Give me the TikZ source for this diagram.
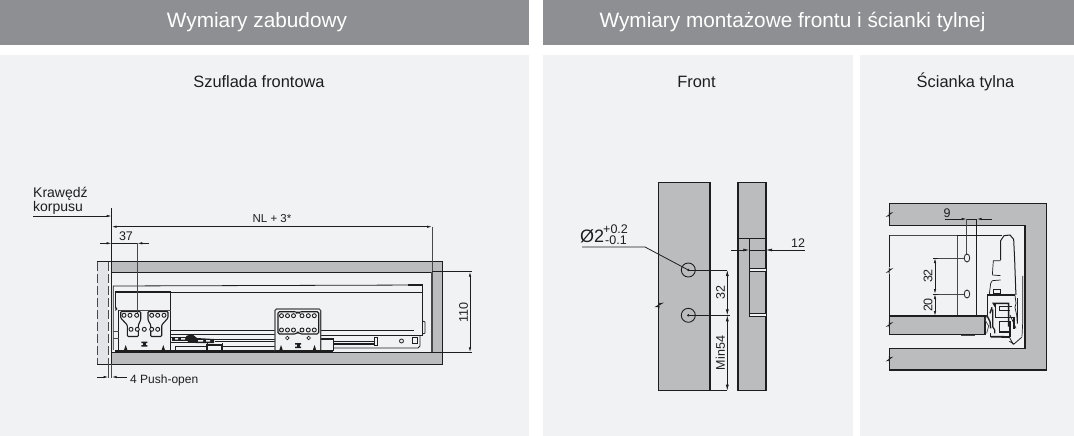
\documentclass[tikz,border=0pt]{standalone}
\usepackage{fontspec}
\setmainfont{Liberation Sans}
\usetikzlibrary{arrows.meta,shapes.geometric}
\definecolor{hdr}{HTML}{8E8F92}
\definecolor{pnl}{HTML}{F1F2F4}
\definecolor{part}{HTML}{BBBCBE}
\definecolor{ink}{HTML}{1F1E1F}
\definecolor{thinc}{HTML}{48484A}
\tikzset{
  x=1pt,y=-1pt,
  header/.style={fill=hdr,draw=none},
  panel/.style={fill=pnl,draw=none},
  headtxt/.style={text=white,font=\fontsize{20.8}{24}\selectfont,anchor=center,inner sep=0pt},
  titletxt/.style={text=ink,font=\fontsize{16.4}{19}\selectfont,anchor=center,inner sep=0pt},
  dimtxt/.style={text=ink,font=\fontsize{11.5}{13}\selectfont,inner sep=0pt},
  outl/.style={draw=ink,line width=1pt},
  solid part/.style={fill=part,draw=ink,line width=1.1pt},
  hair/.style={draw=thinc,line width=.7pt},
  fine/.style={draw=ink,line width=.8pt},
  heavy/.style={draw=ink,line width=1.6pt},
  dimline/.style={draw=ink,line width=.7pt},
  dimarr/.style={draw=ink,line width=.7pt,{Latex[length=5pt,width=2.4pt]}-{Latex[length=5pt,width=2.4pt]}},
  arrend/.style={draw=ink,line width=.7pt,-{Latex[length=5pt,width=2.4pt]}},
  hole/.style={draw=ink,line width=.8pt,fill=pnl},
}
\begin{document}
\begin{tikzpicture}
\useasboundingbox (0,0) rectangle (1074,436);
\fill[white] (0,0) rectangle (1074,436);
% headers and panels
\fill[header] (0,0) rectangle (529,45);
\fill[header] (543,0) rectangle (1074,45);
\fill[panel] (0,55) rectangle (529,436);
\fill[panel] (543,55) rectangle (853,436);
\fill[panel] (860,55) rectangle (1074,436);
\node[headtxt] (h1) at (257,22) {Wymiary zabudowy};
\node[headtxt] (h2) at (792.5,22.5) {Wymiary montażowe frontu i ścianki tylnej};
\node[titletxt] (t1) at (259,82) {Szuflada frontowa};
\node[titletxt] (t2) at (696.5,82) {Front};
\node[titletxt] (t3) at (965.5,82) {Ścianka tylna};

%%% LEFT DRAWING: carcase
\fill[part!25!pnl] (97,261) rectangle (108,364);
\fill[part] (111.7,261) rectangle (442.7,272);
\fill[part] (111.7,352.3) rectangle (442.7,364);
\fill[part] (431.7,261) rectangle (442.7,364);
\draw[fine] (97,261) -- (442.7,261) -- (442.7,364) -- (97,364);
\draw[fine] (111.7,272) -- (431.7,272);
\draw[hair] (431.7,272) -- (431.7,352.3);
\draw[fine,line width=1pt] (111.7,352.3) -- (431.7,352.3);
\draw[hair,dash pattern=on 9pt off 3pt] (97,262) -- (97,364);
\draw[hair,dash pattern=on 9pt off 3pt] (108,262) -- (108,364);
% edge line and dimensions
\coordinate (edgeT) at (111.7,208);
\coordinate (edgeB) at (111.7,364);
\draw[fine] (edgeT) -- (edgeB);
\node[dimtxt,anchor=west,font=\fontsize{14}{16}\selectfont] (kr) at (33,194) {Krawędź};
\node[dimtxt,anchor=west,font=\fontsize{14}{16}\selectfont] (ko) at (33,207.5) {korpusu};
\coordinate (kl) at (33,216);
\draw[arrend] (kl) -- (111.7,216);
\coordinate (nlL) at (111.7,226.7);
\coordinate (nlR) at (432,226.7);
\draw[dimarr] (nlL) -- (nlR);
\draw[hair] (nlR) -- (432,352.3);
\node[dimtxt] (nl) at (272,218.5) {NL + 3*};
\coordinate (d37a) at (111.7,243.3);
\coordinate (d37b) at (137.3,243.3);
\draw[arrend] (100,243.3) -- (d37a);
\draw[dimline] (d37a) -- (d37b);
\draw[arrend] (149,243.3) -- (d37b);
\node[dimtxt,font=\fontsize{12.5}{14}\selectfont] (n37) at (126,236) {37};
\draw[hair] (108.5,364) -- (108.5,378);
\draw[hair] (111.7,364) -- (111.7,378);
\coordinate (p4a) at (108.5,377);
\coordinate (p4b) at (111.7,377);
\draw[arrend] (97,377) -- (p4a);
\draw[arrend] (127,377) -- (p4b);
\node[dimtxt,anchor=west,font=\fontsize{12}{14}\selectfont] (p4) at (130,380) {4 Push-open};
% height dim
\coordinate (hT) at (470,271.7);
\coordinate (hB) at (470,352.3);
\draw[fine] (431.7,271.7) -- (471.5,271.7);
\draw[fine] (431.7,352.3) -- (471.5,352.3);
\draw[dimarr] (hT) -- (hB);
\node[dimtxt,rotate=90,font=\fontsize{12.5}{14}\selectfont] (h110) at (463.5,312.5) {110};

% drawer side
\draw[fine] (113.3,350) -- (113.3,286) -- (422.7,285);
\draw[fine] (171,292) -- (422.7,292);
\draw[line width=2.4pt,draw=ink] (408,285.2) -- (422.7,285.2);
\draw[fine] (422.7,285) -- (422.7,335);
\draw[fine] (422.7,321) -- (425,322) -- (425,333) -- (422.7,334);
\draw[fine] (171,330) -- (275,330) (320.7,330) -- (414,330) ;
\draw[fine,line width=1pt] (320.7,335) -- (422.7,335);
\draw[fine] (420,335) -- (420,346) -- (418,348) -- (333,348);
\draw[fine] (374,337) -- (374,345) -- (377,345) -- (377,337) -- cycle;
\draw[heavy] (333,344) -- (375,344);
\draw[fine] (333,341.5) -- (375,341.5);
\draw[hole] (401.5,341) circle (2);
\draw[fine] (412,337) rectangle (417,343.5);
\fill[ink] (320.7,338) rectangle (333,340);
\draw[fine] (333,338) -- (333,351);
\fill[ink] (320.7,349.5) rectangle (333,352);
% lower rails left
\draw[fine] (171,334.5) -- (275,334.5);
\draw[fine] (171,337) -- (183,337) (205,339) -- (275,339);
\draw[fine] (171,342) -- (200,342) (215,341) -- (275,341);
\draw[fine] (175,346) -- (207,346) (222,346) -- (275,346);
\draw[fine] (175,346) -- (175,351) (207,342) -- (207,351) (222,343) -- (222,351);
\fill[ink] (172,337) rectangle (188,341);
\fill[pnl] (175,338) rectangle (178,339.5) (181,338) rectangle (185,339.5);
\fill[ink] (186,336) -- (192,334) -- (197,338) -- (214,339) -- (214,343) -- (196,343) -- (188,342) -- cycle;
\fill[pnl] (198,340) rectangle (203,341.5) (206,340) rectangle (210,341.5);
\draw[line width=1.2pt,draw=ink] (207,345) rectangle (222,351);
\draw[line width=2pt,draw=ink] (115,351.2) -- (333,351.2);

% front brackets
\draw[fine,line width=1.1pt] (115.3,308) -- (115.3,292) -- (170.7,292) -- (170.7,351);
\fill[ink] (115.3,306) -- (117.5,309) -- (115.3,311) -- cycle;
\draw[hair] (118.7,310) -- (170.7,310);
\draw[fine] (118.7,310) -- (118.7,351);
\draw[hair] (113.3,331) -- (118.7,331) (113.3,338) -- (118.7,338);
\draw[line width=1.1pt,draw=ink,rounded corners=1pt,fill=pnl] (120.7,311.5) -- (140.7,311.5) -- (140.7,320) -- (138.3,325) -- (138.3,336.5) -- (127.3,336.5) -- (127.3,325) -- (120.7,318) -- cycle;
\draw[line width=1.1pt,draw=ink,rounded corners=1pt,fill=pnl] (148,311.5) -- (168,311.5) -- (168,318) -- (161.7,325) -- (161.7,336.5) -- (150.7,336.5) -- (150.7,325) -- (148,320) -- cycle;
\foreach \hx/\hy in {124/315.3,130/315.3,136.7/315.3,131/329.3,137.3/329.3,144.3/329.3,151.7/329.3,157.7/329.3,151.7/315.3,157.7/315.3,164/315.3}
  \draw[hole,line width=.9pt] (\hx,\hy) circle (2);
\draw[hair] (d37b) -- (137.3,313.3);
\foreach \ix/\iy in {144.3/344}{
  \fill[ink] (\ix-3,\iy-2.5) rectangle (\ix+3,\iy-1) (\ix-3,\iy+1) rectangle (\ix+3,\iy+2.5);
  \fill[ink] (\ix-1.5,\iy-1.5) rectangle (\ix+1.5,\iy+1.5);}
\foreach \tx in {125.7,163.3}
  \fill[ink] (\tx-2,351) -- (\tx,345) -- (\tx+2,351) -- cycle;
\draw[line width=1.1pt,draw=thinc,fill=pnl,rounded corners=1.5pt] (275,351) -- (275,309) -- (320.7,309) -- (320.7,351);
\draw[line width=1.1pt,draw=ink,rounded corners=1.5pt,fill=pnl] (278,311.7) -- (296,311.7) -- (298,313) -- (300,311.7) -- (318.7,311.7) -- (318.7,334) -- (300,334) -- (298,332) -- (296,334) -- (278,334) -- cycle;
\foreach \hx in {281.5,287.5,293.5,302,308.3,314.3}{
  \draw[hole,line width=.9pt] (\hx,315.7) circle (2);
  \draw[hole,line width=.9pt] (\hx,330) circle (2);}
\draw[hole,line width=.6pt] (287.3,338) circle (1.8);
\draw[hole,line width=.6pt] (308.7,338) circle (1.8);
\foreach \ix/\iy in {298/345.5}{
  \fill[ink] (\ix-3,\iy-2.5) rectangle (\ix+3,\iy-1) (\ix-3,\iy+1) rectangle (\ix+3,\iy+2.5);
  \fill[ink] (\ix-1.5,\iy-1.5) rectangle (\ix+1.5,\iy+1.5);}
\foreach \tx in {281,314.5}
  \fill[ink] (\tx-2,351) -- (\tx,345) -- (\tx+2,351) -- cycle;
\draw[line width=2pt,draw=ink] (275,351.2) -- (333,351.2);

%%% FRONT
\draw[solid part] (658.3,182.7) rectangle (710,390.7);
\fill[pnl] (657,303) rectangle (658,308);
\draw[outl] (658.5,302) -- (658.5,304) -- (661.5,303.5) -- (656.5,306.5) -- (659,306.5) -- (658.5,309);
\draw[solid part] (738,182.7) rectangle (766,390.7);
\draw[outl] (738,238.3) -- (766,238.3);
\draw[fine] (749.3,238.3) -- (749.3,316.7);
\draw[fine,fill=pnl] (749.3,268.3) rectangle (766,271.7);
\draw[fine,fill=pnl] (749.3,313.5) rectangle (766,316.7);
\coordinate (a12) at (749.3,250);
\coordinate (b12) at (766,250);
\draw[draw=ink,line width=.7pt,-{Latex[length=6pt,width=3pt]}] (731,250) -- (a12);
\draw[dimline] (a12) -- (b12);
\draw[draw=ink,line width=.7pt,-{Latex[length=6pt,width=3pt]}] (804.7,250) -- (b12);
\node[dimtxt,font=\fontsize{12.5}{14}\selectfont] (n12) at (798,243.5) {12};
\node[inner sep=0pt,circle,minimum size=14pt,draw=ink,line width=.9pt,fill=part] (c1) at (688.3,270) {};
\node[inner sep=0pt,circle,minimum size=14pt,draw=ink,line width=.9pt,fill=part] (c2) at (688.3,315.3) {};
\fill[ink] (c1) circle (1.3);
\fill[ink] (c2) circle (1.3);
\coordinate (dT) at (727.3,270);
\coordinate (dM) at (727.3,315.3);
\coordinate (dB) at (727.3,390.7);
\draw[fine] (c1.center) -- (dT);
\draw[fine] (c2.center) -- (dM);
\draw[fine] (710,390.7) -- (dB);
\draw[dimarr,line width=.7pt,{Latex[length=6pt,width=3pt]}-{Latex[length=6pt,width=3pt]}] (dT) -- (dM);
\draw[dimarr,line width=.7pt,{Latex[length=6pt,width=3pt]}-{Latex[length=6pt,width=3pt]}] (dM) -- (dB);
\draw[fine] (725,315.3) -- (729.5,315.3);
\node[dimtxt,rotate=90,font=\fontsize{12.5}{14}\selectfont] (n32) at (720.5,292.5) {32};
\node[dimtxt,rotate=90,font=\fontsize{12.5}{14}\selectfont] (n54) at (720.5,353) {Min54};
\coordinate (l0) at (582,247);
\coordinate (l1) at (645,247);
\draw[fine] (l0) -- (l1) -- (c1.center);
\node[dimtxt,anchor=west,font=\fontsize{18}{20}\selectfont] (phi) at (580,236) {Ø2};
\node[dimtxt,anchor=west,font=\fontsize{12.5}{14}\selectfont] (tp) at (603,229.5) {+0.2};
\node[dimtxt,anchor=west,font=\fontsize{12.5}{14}\selectfont] (tm) at (605,240.5) {-0.1};

%%% BACK
\draw[solid part] (889.3,203.3) -- (1046.7,203.3) -- (1046.7,370) -- (889.3,370) -- (889.3,348.3) -- (1025,348.3) -- (1025,225.3) -- (889.3,225.3) -- cycle;
\foreach \by in {214.5,270.5,359}{
  \fill[pnl] (887,\by-2) rectangle (889,\by+2);
  \draw[fine] (889.3,\by-3) -- (889.3,\by-1) -- (891.5,\by-1.5) -- (887.5,\by+1.5) -- (889.3,\by+1) -- (889.3,\by+3);}
\draw[hair] (889.3,235.3) -- (957.3,235.3);
\draw[fine] (889.3,235.3) -- (889.3,267) (889.3,274) -- (889.3,316);
\draw[line width=1.4pt,draw=ink] (957.3,235.5) -- (1002,235.5);
\draw[hair] (957.3,236) -- (957.3,316);
\draw[fine] (976.7,219) -- (976.7,316);
\draw[hair] (966.7,219) -- (966.7,254);
\draw[solid part] (889.3,316) -- (985,316) -- (985,334.3) -- (889.3,334.3) -- cycle;
\draw[line width=1.4pt,draw=ink] (889.3,316) -- (985,316);
\draw[line width=1pt,draw=thinc] (961,335.2) -- (975,335.2);
\foreach \by in {324.5}{
  \draw[fine] (889.3,\by-3) -- (889.3,\by-1) -- (891.5,\by-1.5) -- (887.5,\by+1.5) -- (889.3,\by+1) -- (889.3,\by+3);}
\node[ellipse,inner sep=0pt,minimum width=5.5pt,minimum height=8pt,hole] (e1) at (967,258) {};
\node[ellipse,inner sep=0pt,minimum width=5.5pt,minimum height=8pt,hole] (e2) at (967,294) {};
\coordinate (a20) at (935,258);
\coordinate (b20) at (935,294);
\coordinate (c20) at (935,316);
\draw[hair] (a20) -- (e1.west);
\draw[hair] (b20) -- (e2.west);
\draw[dimarr] (a20) -- (b20);
\draw[dimarr] (b20) -- (c20);
\draw[fine] (932.5,258) -- (937.5,258) (932.5,294) -- (937.5,294);
\node[dimtxt,rotate=90,font=\fontsize{12.5}{14}\selectfont] (b32) at (928,276) {32};
\node[dimtxt,rotate=90,font=\fontsize{12.5}{14}\selectfont] (b20t) at (928,305) {20};
\coordinate (a9) at (966.7,219);
\coordinate (b9) at (976.7,219);
\draw[arrend] (944.5,219) -- (a9);
\draw[dimline] (a9) -- (b9);
\draw[arrend] (991.7,219) -- (b9);
\node[dimtxt,font=\fontsize{12.5}{14}\selectfont] (n9) at (947,213) {9};

% mechanism (reference crop 960,220, scale 1/3)
\begin{scope}[shift={(960,220)},x=.3333pt,y=-.3333pt]
\draw[line width=1pt,draw=ink] (122,120) -- (122,62) -- (132,47) -- (150,45) -- (161,58) -- (164,120) -- (167,205) -- (168,225);
\draw[line width=.7pt,draw=ink] (97,165) -- (100,122) -- (122,122);
\draw[line width=.7pt,draw=ink] (97,165) -- (122,167);
\draw[line width=.7pt,draw=ink] (88,222) -- (92,190) -- (97,182) -- (122,180);
\draw[line width=1.1pt,draw=ink] (100,208) rectangle (122,222);
\draw[line width=2pt,draw=ink] (82,226) -- (165,226);
\draw[line width=1.4pt,draw=ink] (83,226) -- (83,285);
\draw[line width=.7pt,draw=ink] (165,226) -- (168,250) -- (165,262) -- (170,285) -- (172,312);
\draw[line width=1.6pt,draw=ink] (172,235) -- (172,310);
\draw[line width=.7pt,draw=ink] (188,168) -- (188,310) -- (186,350);
% profile
\draw[line width=1.5pt,draw=ink] (106,260) -- (100,250) -- (146,250) -- (146,320);
\draw[line width=1.5pt,draw=ink] (106,250) -- (106,292) -- (118,292);
\draw[line width=1.5pt,draw=ink] (118,260) -- (155,260) ;
\draw[line width=1.5pt,draw=ink] (118,260) -- (118,272) -- (150,272);
\draw[line width=1.5pt,draw=ink] (118,304) -- (150,304) -- (150,350);
\draw[line width=1.5pt,draw=ink] (118,304) -- (118,336) -- (150,336);
\draw[line width=1.2pt,draw=ink] (118,292) -- (162,292) (162,290) -- (162,326);
\draw[line width=.7pt,draw=ink] (150,285) -- (168,325);
\draw[line width=1.2pt,draw=ink] (98,268) -- (98,320) -- (104,330) -- (104,340);
\draw[line width=.7pt,draw=thinc] (83,285) -- (74,298) -- (86,318) -- (80,340);
\draw[line width=1.4pt,draw=ink] (90,280) -- (96,262);
\draw[line width=1.4pt,draw=ink] (80,285) -- (90,305) -- (92,325);
\draw[line width=1.8pt,draw=ink] (92,350) -- (148,351);
\draw[line width=.8pt,draw=ink] (92,340) -- (92,350);
\draw[line width=.8pt,draw=ink] (148,351) -- (160,374);
\draw[line width=.8pt,draw=ink] (148,364) -- (162,372) -- (185,352);
\end{scope}
\end{tikzpicture}
\end{document}
